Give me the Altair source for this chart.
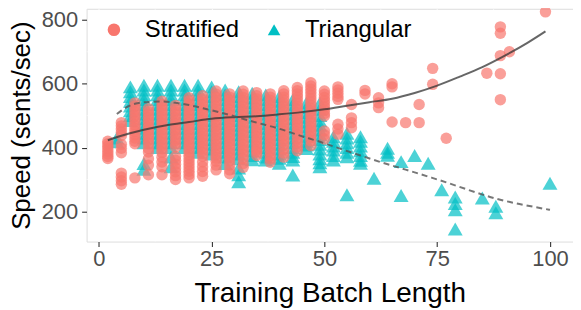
import altair as alt
import pandas as pd

# ---- data ----
strat_x = [2, 5, 8, 11, 14, 17, 20, 23, 26, 29, 32, 35, 38, 41, 44, 47,
           50, 53, 56, 59, 62, 65, 68, 71, 74, 77, 86, 89, 91, 99]
strat_y = [
    [420, 412, 404, 396, 388, 380, 372, 366],
    [478, 468, 458, 448, 438, 410, 398, 384, 320, 308, 296, 285],
    [540, 530, 520, 510, 500, 490, 480, 470, 460, 450, 440, 430, 420, 412, 305],
    [522, 512, 502, 492, 482, 472, 462, 452, 442, 432, 422, 412, 397, 386, 365, 345, 315],
    [545, 535, 525, 515, 505, 495, 485, 475, 465, 455, 445, 435, 425, 415, 405, 396, 385, 370, 355, 340, 315],
    [532, 522, 512, 502, 492, 482, 472, 462, 452, 442, 432, 422, 412, 402, 372, 360, 348, 336, 324, 312, 300],
    [556, 546, 536, 526, 516, 506, 496, 486, 476, 466, 456, 446, 436, 426, 416, 406, 396, 386, 376, 366, 356, 346, 336, 326, 316, 305],
    [562, 552, 542, 532, 522, 512, 502, 492, 482, 472, 462, 452, 442, 432, 422, 412, 402, 392, 382, 372, 355, 340, 325, 310],
    [577, 567, 557, 547, 537, 527, 517, 507, 497, 487, 477, 467, 457, 447, 437, 427, 417, 407, 397, 387, 377, 367, 357, 345, 330],
    [568, 558, 548, 538, 528, 518, 508, 498, 488, 478, 468, 458, 448, 438, 428, 418, 408, 398, 388, 378, 368, 358, 345, 330, 318],
    [577, 567, 557, 547, 537, 527, 517, 507, 497, 487, 477, 467, 457, 447, 437, 427, 417, 407, 397, 387, 377, 365, 350, 338],
    [572, 562, 552, 542, 532, 522, 512, 502, 492, 482, 472, 462, 452, 442, 432, 422, 412, 402, 392, 385, 375],
    [568, 558, 548, 538, 528, 518, 508, 498, 488, 478, 468, 458, 448, 438, 428, 418, 408, 398, 388, 375, 365, 354],
    [578, 568, 558, 548, 538, 528, 518, 508, 498, 488, 478, 468, 458, 448, 438, 428, 418, 408, 395, 383, 370],
    [588, 578, 568, 558, 548, 538, 528, 518, 508, 498, 488, 478, 468, 458, 448, 438, 425, 415, 402, 390],
    [603, 593, 583, 573, 563, 553, 543, 533, 523, 513, 503, 493, 483, 473, 463, 453, 443, 432, 421, 406],
    [577, 567, 557, 547, 537, 527, 517, 507, 499, 452, 440, 427],
    [590, 580, 570, 560, 551, 473, 458, 442],
    [535, 493, 478, 462],
    [579, 568],
    [556, 540, 525],
    [600, 590, 480],
    [478],
    [535, 478],
    [648, 598],
    [429],
    [633],
    [778, 758, 688, 631, 550],
    [700],
    [825],
]

tri_x = [4, 7, 10, 13, 16, 19, 22, 25, 28, 31, 34, 37, 40, 43, 46, 49,
         52, 55, 58, 61, 64, 67, 70, 73, 76, 79, 85, 88, 100]
tri_y = [
    [430, 418],
    [590, 575, 560, 545, 530, 515, 500, 485],
    [595, 580, 565, 550, 535, 520, 505, 490, 475, 460, 445, 430, 415, 350, 332],
    [595, 580, 565, 550, 535, 520, 505, 490, 475, 460, 445, 430, 415, 400],
    [595, 580, 565, 550, 535, 520, 505, 490, 475, 460, 445, 430, 415, 400, 370, 340],
    [595, 580, 565, 550, 535, 520, 505, 490, 475, 460, 445, 430, 415, 400],
    [595, 580, 565, 550, 535, 520, 505, 490, 475, 460, 445, 430, 415, 400, 385],
    [590, 575, 560, 545, 530, 515, 500, 485, 470, 455, 440, 425, 410, 395, 380],
    [580, 565, 550, 535, 520, 505, 490, 475, 460, 445, 430, 415, 400, 385, 370, 350],
    [575, 560, 545, 530, 515, 500, 485, 470, 455, 440, 425, 410, 395, 380, 365, 336, 315, 293],
    [570, 555, 540, 525, 510, 495, 480, 465, 450, 435, 420, 405, 390, 375, 362],
    [565, 550, 535, 520, 505, 490, 475, 460, 445, 430, 415, 400, 385, 370, 361],
    [560, 545, 530, 515, 500, 485, 470, 455, 440, 425, 410, 395, 380, 366, 351],
    [550, 535, 520, 505, 490, 475, 460, 445, 430, 415, 400, 385, 372, 361, 314],
    [540, 525, 510, 495, 480, 465, 450, 435, 420, 408, 397],
    [540, 520, 500, 484, 470, 455, 440, 425, 410, 395, 380, 365, 352, 340],
    [434, 420, 405, 392, 375, 361],
    [445, 430, 415, 400, 385, 371, 252],
    [434, 420, 405, 390, 375, 360, 351],
    [304],
    [398, 385, 376],
    [356, 250],
    [375],
    [351],
    [268],
    [245, 225, 205, 145],
    [242],
    [216, 196],
    [288],
]

# smoother curves
fit_strat_x = [2, 5, 10, 15, 20, 25, 30, 35, 40, 45, 50, 55, 60, 65, 70, 75, 80, 85, 90, 95, 99]
fit_strat_y = [423, 437, 456, 470, 480, 490, 495, 498, 504, 511, 520, 531, 542, 553, 571, 594, 622, 652, 688, 728, 764]
fit_tri_x = [4, 6, 8, 11, 14, 17, 20, 24, 28, 31, 35, 40, 44, 49, 54, 58, 63, 68, 73, 77, 82, 88, 94, 100]
fit_tri_y = [505, 525, 537, 543, 544, 540, 533, 520, 506, 494, 478, 459, 440, 418, 394, 375, 352, 331, 309, 291, 267, 240, 221, 205]

x_breaks = [0, 25, 50, 75, 100]
x_minor = [12.5, 37.5, 62.5, 87.5]
y_breaks = [200, 400, 600, 800]
y_minor = [300, 500, 700]
series = ["Stratified", "Triangular"]

# ---- tables ----
strat_rows = [{"x": x, "y": y, "series": "Stratified", "key": "Stratified"}
              for x, ys in zip(strat_x, strat_y) for y in ys]
tri_rows = [{"x": x, "y": y, "series": "Triangular", "key": "Triangular"}
            for x, ys in zip(tri_x, tri_y) for y in ys]
strat_df = pd.DataFrame(strat_rows)
tri_df = pd.DataFrame(tri_rows)
fit_s = pd.DataFrame({"x": fit_strat_x, "y": fit_strat_y})
fit_t = pd.DataFrame({"x": fit_tri_x, "y": fit_tri_y})

FONT = "Liberation Sans"
xscale = alt.Scale(domain=[-2.71, 105.1], nice=False, zero=False)
yscale = alt.Scale(domain=[105.6, 834.6], nice=False, zero=False)

xaxis = alt.Axis(values=x_breaks, title="Training Batch Length", grid=True,
                 gridColor="white", gridWidth=1.1, domain=False,
                 tickColor="#333333", tickSize=5, tickWidth=1.1,
                 labelFontSize=22, labelColor="#4D4D4D", labelFont=FONT,
                 labelPadding=2, titleFontSize=28, titleFont=FONT,
                 titleColor="black", titleFontWeight="normal",
                 titleBaseline="alphabetic", titleY=60)
yaxis = alt.Axis(values=y_breaks, title="Speed (sents/sec)", grid=True,
                 gridColor="white", gridWidth=1.1, domain=False,
                 tickColor="#333333", tickSize=5, tickWidth=1.1,
                 labelFontSize=22, labelColor="#4D4D4D", labelFont=FONT,
                 labelPadding=4, titleFontSize=26, titleFont=FONT,
                 titleColor="black", titleFontWeight="normal",
                 titleBaseline="alphabetic", titleAngle=270, titleX=-57,
                 titleY=117, titleAlign="center")

color_scale = alt.Scale(domain=series, range=["#F8766D", "#00BFC4"])
shape_scale = alt.Scale(domain=series, range=["circle", "triangle-up"])

main_legend = alt.Legend(
    title=None, orient="none", legendX=15.5, legendY=9, direction="horizontal",
    symbolSize=160, labelFontSize=24, labelFont=FONT, labelColor="black",
    labelOffset=19, columnPadding=23, padding=0, zindex=4, symbolOpacity=1,
    symbolStrokeWidth=0)

# white key boxes behind the legend symbols (no visible labels)
key_legend = alt.Legend(
    title=None, orient="none", legendX=4.7, legendY=3.7, direction="horizontal",
    symbolType="square", symbolSize=1225, symbolStrokeWidth=0,
    symbolFillColor="white", symbolStrokeColor="white", labelExpr="''",
    labelOffset=0, columnPadding=125, padding=0, zindex=3, symbolOpacity=1)

minor_x = alt.Chart(pd.DataFrame({"x": x_minor})).mark_rule(
    color="white", strokeWidth=0.55).encode(
    x=alt.X("x:Q", scale=xscale, axis=xaxis))
minor_y = alt.Chart(pd.DataFrame({"y": y_minor})).mark_rule(
    color="white", strokeWidth=0.55).encode(
    y=alt.Y("y:Q", scale=yscale, axis=yaxis))


def points(df, size):
    return alt.Chart(df).mark_point(filled=True, size=size, strokeWidth=0).encode(
        x=alt.X("x:Q", scale=xscale, axis=xaxis),
        y=alt.Y("y:Q", scale=yscale, axis=yaxis),
        color=alt.Color("series:N", scale=color_scale, legend=main_legend),
        shape=alt.Shape("series:N", scale=shape_scale, legend=main_legend),
        opacity=alt.Opacity("key:N", scale=alt.Scale(range=[0.7, 0.7]), legend=key_legend),
    )


tri_pts = points(tri_df, 225)
strat_pts = points(strat_df, 132)

line_s = alt.Chart(fit_s).mark_line(color="#333333", opacity=0.75, strokeWidth=2,
                                   interpolate="monotone").encode(
    x=alt.X("x:Q", scale=xscale, axis=xaxis), y=alt.Y("y:Q", scale=yscale, axis=yaxis))
line_t = alt.Chart(fit_t).mark_line(color="#555555", opacity=0.8, strokeWidth=2,
                                   strokeDash=[6, 4], interpolate="monotone").encode(
    x=alt.X("x:Q", scale=xscale, axis=xaxis), y=alt.Y("y:Q", scale=yscale, axis=yaxis))

chart = alt.layer(minor_x, minor_y, tri_pts, strat_pts, line_s, line_t).properties(
    width=489, height=234,
    autosize=alt.AutoSizeParams(type="none"),
    padding={"left": 79, "top": 0, "right": 0, "bottom": 66},
).configure_view(fill="#EBEBEB", stroke=None, strokeWidth=0
).configure(background="white")

chart.save("out.html", embed_options={"renderer": "svg", "actions": False})
